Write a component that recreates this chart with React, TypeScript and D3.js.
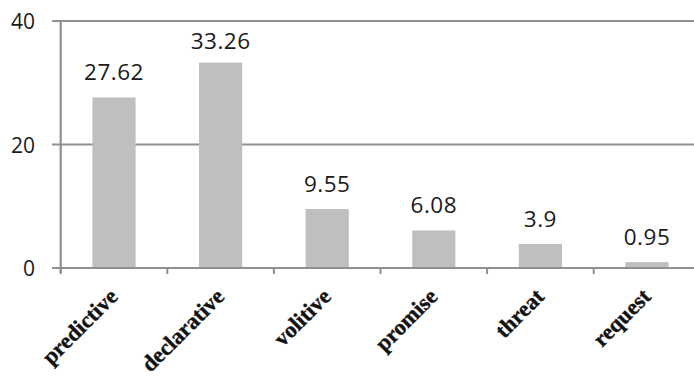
import React from "react";
import * as d3 from "d3";

const categories = ["predictive", "declarative", "volitive", "promise", "threat", "request"];
const values = [27.62, 33.26, 9.55, 6.08, 3.9, 0.95];
const valueLabels = ["27.62", "33.26", "9.55", "6.08", "3.9", "0.95"];
const yTicks = [0, 20, 40];

const W = 694;
const H = 380;
const left = 60.7;
const right = 700.3;
const y0 = 268;
const yTop = 21;

export default function App() {
  const x = d3.scaleBand<string>().domain(categories).range([left, right]).paddingInner(0).paddingOuter(0);
  const y = d3.scaleLinear().domain([0, 40]).range([y0, yTop]);
  const bw = x.bandwidth() * 0.405;
  const gridColor = "#8f8f8f";
  const boundaries = categories.map((c) => x(c) as number).concat([right]);

  return (
    <svg
      width={W}
      height={H}
      style={{ position: "absolute", left: 0, top: 0, background: "#fff" }}
    >
      {yTicks.map((t) => (
        <line key={"g" + t} x1={52} x2={W} y1={y(t)} y2={y(t)} stroke={gridColor} strokeWidth={2.2} />
      ))}
      <line x1={left} x2={left} y1={y(40)} y2={y0 + 5} stroke={gridColor} strokeWidth={2.2} />
      {boundaries.map((b, i) => (
        <line key={"t" + i} x1={b} x2={b} y1={y0} y2={y0 + 6} stroke={gridColor} strokeWidth={2} />
      ))}
      {yTicks.map((t) => (
        <text
          key={"yl" + t}
          x={35}
          y={y(t)}
          textAnchor="end"
          dominantBaseline="central"
          fontFamily="'Open Sans', sans-serif"
          fontSize={21}
          fill="#1a1a1a"
        >
          {t}
        </text>
      ))}
      {categories.map((c, i) => {
        const cx = (x(c) as number) + x.bandwidth() / 2;
        return (
          <rect
            key={"b" + c}
            x={cx - bw / 2}
            y={y(values[i])}
            width={bw}
            height={y0 - y(values[i]) - 1}
            fill="#bfbfbf"
          />
        );
      })}
      {categories.map((c, i) => {
        const cx = (x(c) as number) + x.bandwidth() / 2;
        const by = Math.max(y(values[i]) - 17, y(40) + 28);
        return (
          <text
            key={"v" + c}
            x={cx}
            y={by}
            textAnchor="middle"
            fontFamily="'Open Sans', sans-serif"
            fontSize={22.5}
            letterSpacing={0.5}
            fill="#1a1a1a"
          >
            {valueLabels[i]}
          </text>
        );
      })}
      {categories.map((c) => {
        const cx = (x(c) as number) + x.bandwidth() / 2 + 5;
        const ly = y0 + 30;
        return (
          <text
            key={"c" + c}
            x={cx}
            y={ly}
            textAnchor="end"
            transform={`rotate(-45, ${cx}, ${ly})`}
            fontFamily="'Liberation Serif', serif"
            fontWeight="bold"
            fontSize={22.5}
            stroke="#111"
            strokeWidth={0.4}
            fill="#111"
          >
            {c}
          </text>
        );
      })}
    </svg>
  );
}
